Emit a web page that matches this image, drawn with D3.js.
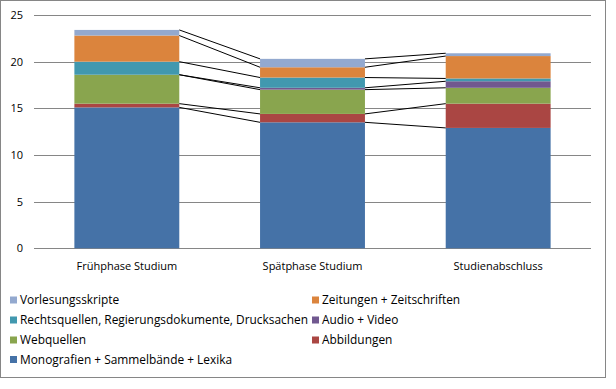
<!DOCTYPE html>
<html>
<head>
<meta charset="utf-8">
<script src="https://cdn.jsdelivr.net/npm/d3@7"></script>
<style>
body { margin: 0; background: #fff; }
text { font-family: "Open Sans", "Liberation Sans", sans-serif; }
</style>
</head>
<body>
<script>
const categories = ["Frühphase Studium", "Spätphase Studium", "Studienabschluss"];
// stacked bottom to top
const seriesNames = ["Monografien + Sammelbände + Lexika", "Abbildungen", "Webquellen", "Audio + Video",
  "Rechtsquellen, Regierungsdokumente, Drucksachen", "Zeitungen + Zeitschriften", "Vorlesungsskripte"];
const monografien = [15.1, 13.5, 12.9];
const abbildungen = [0.4, 0.9, 2.6];
const webquellen = [3.1, 2.6, 1.7];
const audioVideo = [0.0, 0.2, 0.7];
const rechtsquellen = [1.4, 1.1, 0.3];
const zeitungen = [2.8, 1.1, 2.4];
const vorlesungsskripte = [0.6, 0.9, 0.3];
const yTicks = [0, 5, 10, 15, 20, 25];
const colors = ["#4572A7", "#AA4643", "#89A54E", "#71588F", "#4198AF", "#DB843D", "#93A9CF"];

// legend layout: [series index, column, row]
const legendOrder = [[6,0,0],[5,1,0],[4,0,1],[3,1,1],[2,0,2],[1,1,2],[0,0,3]];

const seriesValues = [monografien, abbildungen, webquellen, audioVideo, rechtsquellen, zeitungen, vorlesungsskripte];
const table = categories.map((c, i) => {
  const row = { cat: c };
  seriesNames.forEach((s, k) => row[s] = seriesValues[k][i]);
  return row;
});
const stacked = d3.stack().keys(seriesNames)(table);

const svg = d3.select("body").append("svg").attr("width", 616).attr("height", 389);
svg.append("rect").attr("x", 0).attr("y", 0).attr("width", 616).attr("height", 389).attr("fill", "#fff");
svg.append("rect").attr("x", 0.5).attr("y", 0.5).attr("width", 605).attr("height", 377)
  .attr("fill", "#fff").attr("stroke", "#868686").attr("stroke-width", 1);

const x = d3.scaleBand().domain(categories).range([34, 591]).paddingInner(0.435).paddingOuter(0.2175);
const y = d3.scaleLinear().domain([0, 25]).range([248.3, 15]);

// gridlines
svg.append("g").selectAll("line").data(yTicks).join("line")
  .attr("x1", 34).attr("x2", 591)
  .attr("y1", d => Math.round(y(d)) + 0.5).attr("y2", d => Math.round(y(d)) + 0.5)
  .attr("stroke", "#868686").attr("stroke-width", 1);

// y labels
svg.append("g").selectAll("text").data(yTicks).join("text")
  .attr("x", 23).attr("y", d => Math.round(y(d)) + 0.5).attr("dy", "0.35em")
  .attr("text-anchor", "end").attr("font-size", 11).attr("fill", "#000").text(d => d);

// bars
svg.append("g").selectAll("g").data(stacked).join("g")
  .attr("fill", (d, i) => colors[i])
  .selectAll("rect").data(d => d).join("rect")
  .attr("x", d => x(d.data.cat)).attr("width", x.bandwidth())
  .attr("y", d => y(d[1])).attr("height", d => y(d[0]) - y(d[1]));

// series lines
const sl = svg.append("g").attr("stroke", "#000").attr("stroke-width", 1);
stacked.forEach(s => {
  for (let i = 0; i < categories.length - 1; i++) {
    sl.append("line")
      .attr("x1", x(categories[i]) + x.bandwidth()).attr("y1", y(s[i][1]))
      .attr("x2", x(categories[i + 1])).attr("y2", y(s[i + 1][1]));
  }
});

// category labels
svg.append("g").selectAll("text").data(categories).join("text")
  .attr("x", d => x(d) + x.bandwidth() / 2).attr("y", 270)
  .attr("text-anchor", "middle").attr("font-size", 11).attr("fill", "#000").text(d => d);

// legend
const colX = [10, 312];
const rowY = [300, 320, 340, 359.5];
const lg = svg.append("g").selectAll("g").data(legendOrder).join("g")
  .attr("transform", d => `translate(${colX[d[1]]},${rowY[d[2]]})`);
lg.append("rect").attr("x", 0).attr("y", -3.5).attr("width", 7).attr("height", 7).attr("fill", d => colors[d[0]]);
lg.append("text").attr("x", 10).attr("y", 0).attr("dy", "0.35em").attr("font-size", 11.9).attr("fill", "#000")
  .text(d => seriesNames[d[0]]);
</script>
</body>
</html>
